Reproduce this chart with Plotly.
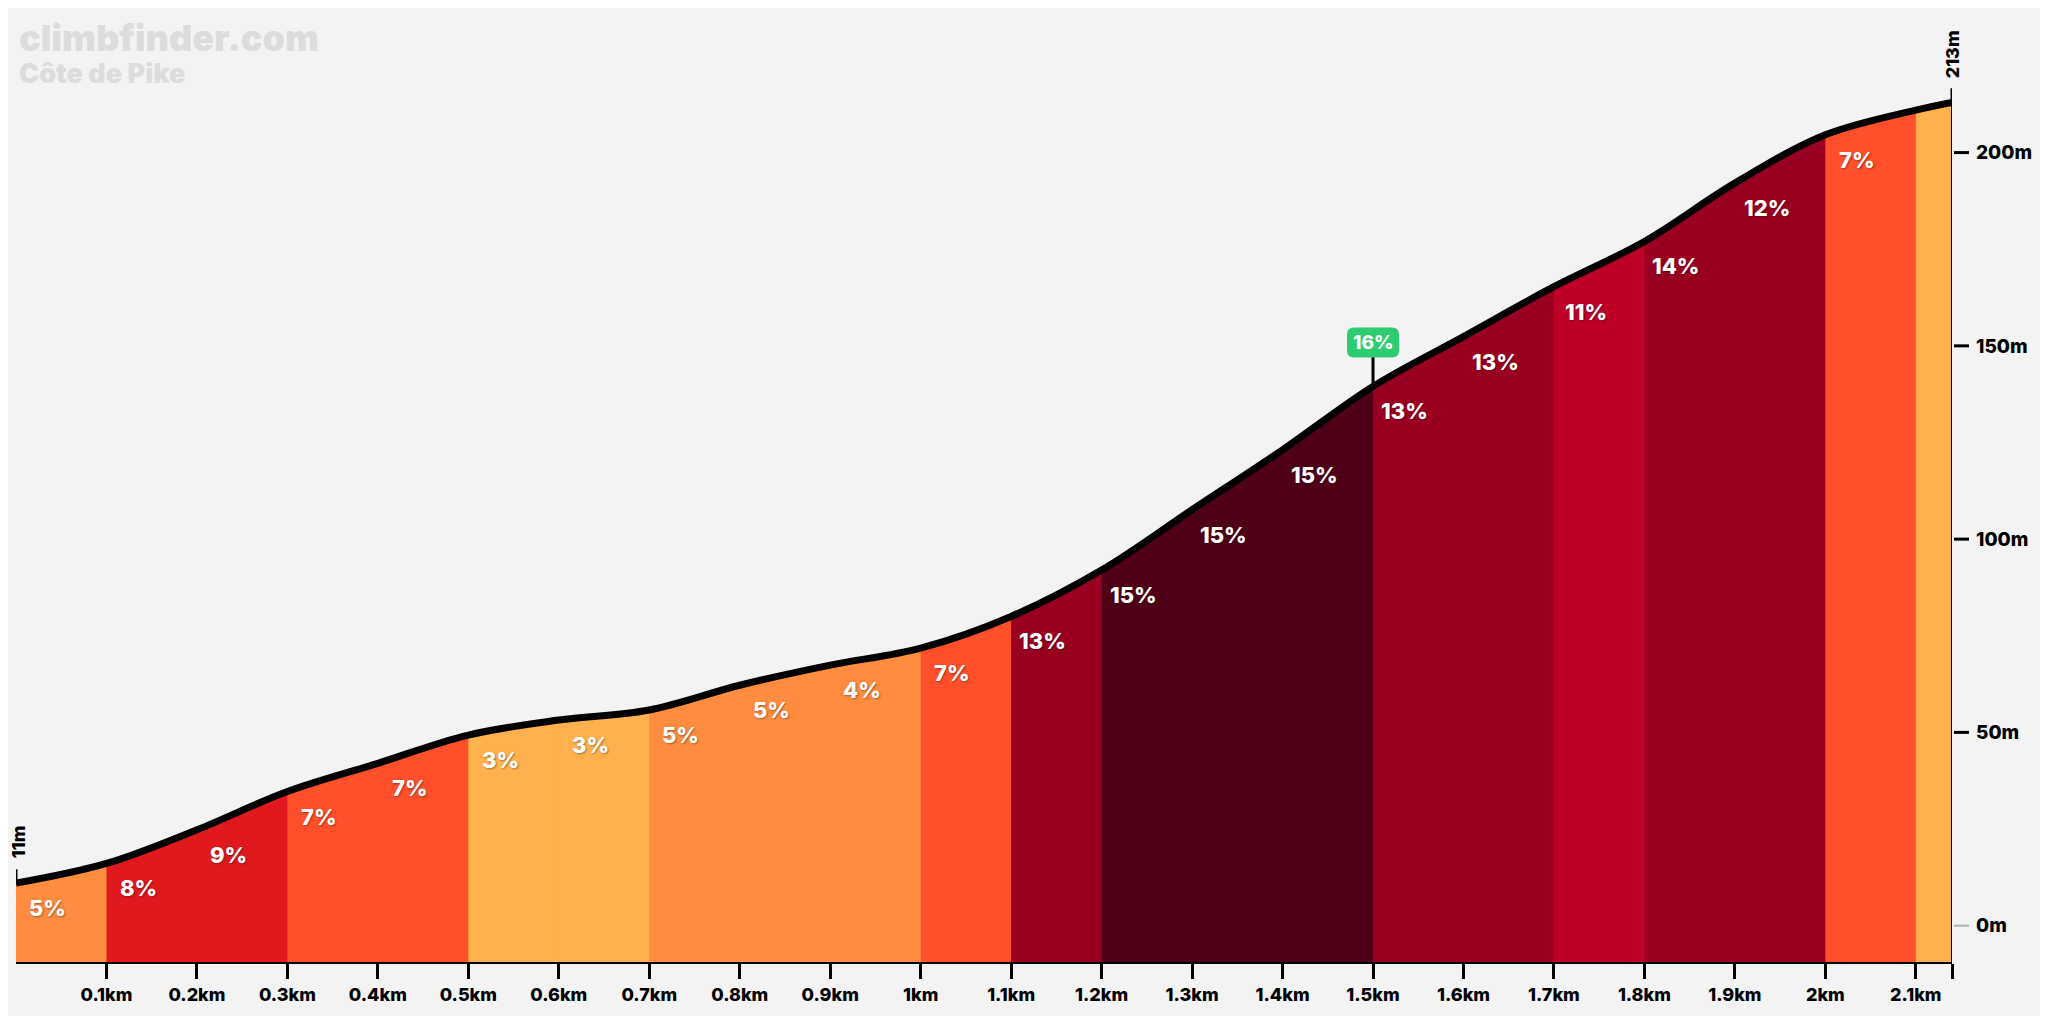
import plotly.graph_objects as go

# ---------------- data ----------------
dist_km = [0.0, 0.1, 0.2, 0.3, 0.4, 0.5, 0.6, 0.7, 0.8, 0.9, 1.0, 1.1,
           1.2, 1.3, 1.4, 1.5, 1.6, 1.7, 1.8, 1.9, 2.0, 2.1, 2.14]
elev_m = [11.0, 16.1, 24.8, 34.7, 42.0, 49.3, 53.2, 55.8, 62.2, 67.4, 71.8, 80.0,
          92.0, 107.6, 123.1, 139.5, 152.4, 165.3, 177.0, 192.1, 204.6, 211.0, 213.0]
seg_grade = [5, 8, 9, 7, 7, 3, 3, 5, 5, 4, 7, 13, 15, 15, 15, 13, 13, 11, 14, 12, 7, 3]
seg_label = ["5%", "8%", "9%", "7%", "7%", "3%", "3%", "5%", "5%", "4%", "7%", "13%",
             "15%", "15%", "15%", "13%", "13%", "11%", "14%", "12%", "7%", ""]
x_tickvals = [0.1, 0.2, 0.3, 0.4, 0.5, 0.6, 0.7, 0.8, 0.9, 1.0, 1.1,
              1.2, 1.3, 1.4, 1.5, 1.6, 1.7, 1.8, 1.9, 2.0, 2.1, 2.14]
x_ticktext = ["0.1km", "0.2km", "0.3km", "0.4km", "0.5km", "0.6km", "0.7km", "0.8km",
              "0.9km", "1km", "1.1km", "1.2km", "1.3km", "1.4km", "1.5km", "1.6km",
              "1.7km", "1.8km", "1.9km", "2km", "2.1km", ""]
y_tickvals = [0, 50, 100, 150, 200]
y_ticktext = ["0m", "50m", "100m", "150m", "200m"]
max_grade_km = 1.5
max_grade_label = "16%"
title_text = "climbfinder.com"
subtitle_text = "Côte de Pike"

# ---------------- style ----------------
BG = "#f3f3f3"
FONT = "Inter"
Y_MIN, Y_MAX = -9.4, 234.3
PLOT_W, PLOT_H = 1936, 942


def grade_color(g):
    if g <= 3:
        return "#ffb14e"
    if g <= 5:
        return "#ff8c3f"
    if g <= 7:
        return "#ff502b"
    if g <= 9:
        return "#e0191e"
    if g <= 11:
        return "#be0028"
    if g <= 14:
        return "#990020"
    return "#4f0017"


fig = go.Figure()

n_seg = len(seg_grade)
# coloured fills, drawn right-to-left so each visible part is its own segment
for k in reversed(range(n_seg)):
    xs = dist_km[:k + 2]
    ys = elev_m[:k + 2]
    fig.add_trace(go.Scatter(x=[xs[0], xs[-1]], y=[Y_MIN, Y_MIN], mode="lines",
                             line=dict(width=0), hoverinfo="skip", showlegend=False))
    fig.add_trace(go.Scatter(x=xs, y=ys, mode="lines", fill="tonexty",
                             fillcolor=grade_color(seg_grade[k]),
                             line=dict(width=0, shape="spline", color=grade_color(seg_grade[k])),
                             hoverinfo="skip", showlegend=False))

# profile line
fig.add_trace(go.Scatter(x=dist_km, y=elev_m, mode="lines",
                         line=dict(color="black", width=7, shape="spline"),
                         hoverinfo="skip", showlegend=False))

annotations = []
shapes = []

# gradient labels
for k in range(n_seg):
    if not seg_label[k]:
        continue
    annotations.append(dict(
        x=dist_km[k] + 0.035, y=elev_m[k], xref="x", yref="y",
        text=seg_label[k], showarrow=False, yshift=-25,
        font=dict(family=FONT, size=22, color="white", weight=800,
                  shadow="1px 1px 2px rgba(0,0,0,0.35)"),
    ))

# right edge line
shapes.append(dict(type="line", xref="x", yref="y", x0=dist_km[-1], x1=dist_km[-1],
                   y0=Y_MIN, y1=elev_m[-1], line=dict(color="black", width=2), layer="above"))

# y ticks (drawn as shapes)
for v in y_tickvals:
    shapes.append(dict(type="line", xref="paper", yref="y",
                       x0=1 + 2 / PLOT_W, x1=1 + 17 / PLOT_W, y0=v, y1=v,
                       line=dict(color="#b0b0b0" if v == 0 else "black",
                                 width=2 if v == 0 else 3)))

# start / end markers
for xv, yv, txt, shift, xs_ in [(dist_km[0], elev_m[0], "11m", 41, 2),
                                (dist_km[-1], elev_m[-1], "213m", 48, 0)]:
    shapes.append(dict(type="line", xref="x", yref="y", ysizemode="pixel", yanchor=yv,
                       x0=xv, x1=xv, y0=0, y1=14, line=dict(color="black", width=3)))
    annotations.append(dict(x=xv, y=yv, xref="x", yref="y", text=txt, showarrow=False,
                            textangle=-90, yshift=shift, xshift=xs_,
                            font=dict(family=FONT, size=18, color="black", weight=800)))

# max gradient marker
y_at_max = elev_m[dist_km.index(max_grade_km)]
shapes.append(dict(type="line", xref="x", yref="y", ysizemode="pixel", yanchor=y_at_max,
                   x0=max_grade_km, x1=max_grade_km, y0=0, y1=30,
                   line=dict(color="black", width=3)))
r = 7
x0p, x1p, y0p, y1p = -26, 26, 29, 59
path = (f"M {x0p + r},{y0p} L {x1p - r},{y0p} Q {x1p},{y0p} {x1p},{y0p + r} "
        f"L {x1p},{y1p - r} Q {x1p},{y1p} {x1p - r},{y1p} L {x0p + r},{y1p} "
        f"Q {x0p},{y1p} {x0p},{y1p - r} L {x0p},{y0p + r} Q {x0p},{y0p} {x0p + r},{y0p} Z")
shapes.append(dict(type="path", xref="x", yref="y", xsizemode="pixel", ysizemode="pixel",
                   xanchor=max_grade_km, yanchor=y_at_max, path=path,
                   fillcolor="#2ecc71", line=dict(width=0), layer="above"))
annotations.append(dict(x=max_grade_km, y=y_at_max, xref="x", yref="y",
                        text=max_grade_label, showarrow=False, yshift=44,
                        font=dict(family=FONT, size=19, color="white", weight=800)))

# titles
annotations.append(dict(x=0, y=1 - 18 / PLOT_H, xref="paper", yref="paper", xanchor="left",
                        yanchor="middle", xshift=1, text=title_text, showarrow=False,
                        font=dict(family=FONT, size=36, color="#dcdcdc", weight=900)))
annotations.append(dict(x=0, y=1 - 54 / PLOT_H, xref="paper", yref="paper", xanchor="left",
                        yanchor="middle", xshift=1, text=subtitle_text, showarrow=False,
                        font=dict(family=FONT, size=27, color="#dcdcdc", weight=900)))

# the page body has an 8px margin, so the figure is sized to fit inside it
fig.update_layout(
    width=2032, height=1008,
    margin=dict(l=8, r=88, t=12, b=54),
    paper_bgcolor=BG, plot_bgcolor=BG,
    showlegend=False,
    annotations=annotations, shapes=shapes,
    xaxis=dict(range=[0, dist_km[-1]], showgrid=False, zeroline=False,
               showline=True, linecolor="black", linewidth=2,
               tickmode="array", tickvals=x_tickvals, ticktext=x_ticktext,
               ticks="outside", ticklen=15, tickwidth=3, tickcolor="black",
               tickfont=dict(family=FONT, size=18, color="black", weight=800),
               fixedrange=True),
    yaxis=dict(range=[Y_MIN, Y_MAX], showgrid=False, zeroline=False, showline=False,
               side="right", tickmode="array", tickvals=y_tickvals, ticktext=y_ticktext,
               ticks="", ticklabelstandoff=23,
               tickfont=dict(family=FONT, size=19, color="black", weight=800),
               fixedrange=True),
)

fig.write_html("out.html")
